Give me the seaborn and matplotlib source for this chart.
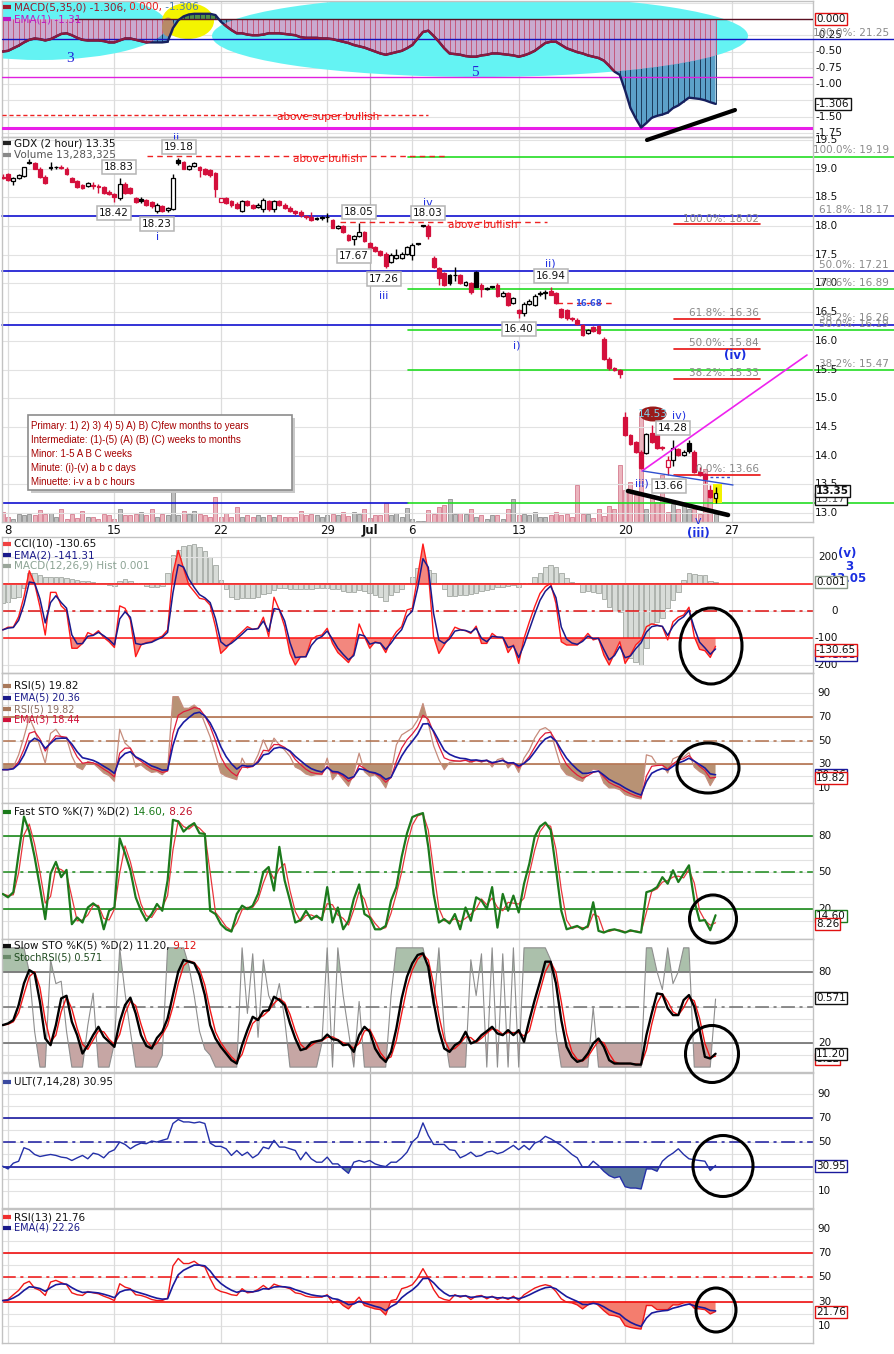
import numpy as np
import pandas as pd
import matplotlib
matplotlib.use("Agg")
import matplotlib.pyplot as plt
import seaborn as sns
from matplotlib.patches import Ellipse, Rectangle

# ---------------- data (2-hour bars, index -1 .. 133) ----------------
bar = np.arange(-1, 134)
date_pos = [0, 20, 40, 60, 68, 76, 96, 116, 136]
date_lbl = ['8', '15', '22', '29', 'Jul', '6', '13', '20', '27']

opens = [18.86, 18.90, 18.78, 18.84, 18.87, 19.10, 19.09, 19.00, 18.86, 19.03,
         19.03, 19.02, 19.00, 18.84, 18.79, 18.72, 18.70, 18.71, 18.70, 18.68,
         18.60, 18.55, 18.49, 18.74, 18.66, 18.48, 18.47, 18.45, 18.41, 18.26,
         18.34, 18.28, 18.30, 19.15, 19.12, 19.00, 19.04, 19.02, 18.99, 18.98,
         18.92, 18.42, 18.48, 18.43, 18.39, 18.26, 18.44, 18.37, 18.33, 18.29,
         18.44, 18.30, 18.43, 18.37, 18.32, 18.27, 18.25, 18.17, 18.15, 18.13,
         18.16, 18.15, 18.10, 17.96, 18.00, 17.84, 17.77, 17.83, 17.90, 17.70,
         17.63, 17.57, 17.52, 17.38, 17.44, 17.45, 17.52, 17.49, 17.70, 18.01,
         18.00, 17.45, 17.26, 17.18, 17.15, 17.15, 17.15, 16.98, 17.00, 17.20,
         16.98, 16.91, 16.94, 16.98, 16.78, 16.83, 16.66, 16.54, 16.49, 16.64,
         16.62, 16.82, 16.84, 16.86, 16.83, 16.55, 16.53, 16.40, 16.37, 16.27,
         16.13, 16.24, 16.25, 16.04, 15.69, 15.52, 15.49, 14.68, 14.36, 14.24,
         14.07, 14.05, 14.39, 14.36, 14.14, 13.81, 13.92, 14.11, 14.01, 14.22,
         14.07, 13.72, 13.68, 13.40, 13.26]
closes = [18.84, 18.80, 18.83, 18.88, 19.02, 19.12, 19.00, 18.85, 18.75, 19.01,
          19.02, 19.01, 18.90, 18.77, 18.68, 18.67, 18.75, 18.70, 18.68, 18.57,
          18.56, 18.51, 18.74, 18.58, 18.57, 18.42, 18.43, 18.37, 18.34, 18.37,
          18.26, 18.31, 18.83, 19.10, 19.00, 19.04, 19.10, 18.98, 18.90, 18.89,
          18.64, 18.48, 18.40, 18.36, 18.32, 18.43, 18.37, 18.31, 18.37, 18.46,
          18.29, 18.43, 18.37, 18.31, 18.26, 18.22, 18.19, 18.15, 18.10, 18.13,
          18.14, 18.16, 17.97, 18.00, 17.90, 17.76, 17.83, 17.90, 17.74, 17.61,
          17.57, 17.50, 17.30, 17.49, 17.50, 17.52, 17.64, 17.67, 17.69, 18.00,
          17.82, 17.29, 17.10, 16.98, 17.00, 17.14, 17.01, 17.02, 16.85, 16.94,
          16.90, 16.91, 16.94, 16.78, 16.84, 16.62, 16.74, 16.49, 16.64, 16.70,
          16.78, 16.83, 16.84, 16.80, 16.66, 16.42, 16.39, 16.38, 16.30, 16.10,
          16.19, 16.17, 16.14, 15.69, 15.52, 15.50, 15.42, 14.36, 14.21, 14.07,
          13.78, 14.38, 14.24, 14.13, 14.13, 13.92, 14.13, 14.01, 14.07, 14.08,
          13.72, 13.66, 13.60, 13.28, 13.35]
highs = [18.90, 18.93, 18.85, 18.90, 19.03, 19.16, 19.11, 19.02, 18.88, 19.12,
         19.05, 19.06, 19.02, 18.86, 18.81, 18.74, 18.76, 18.77, 18.74, 18.70,
         18.62, 18.58, 18.83, 18.76, 18.68, 18.50, 18.50, 18.47, 18.43, 18.40,
         18.36, 18.33, 18.90, 19.18, 19.14, 19.06, 19.12, 19.04, 19.01, 19.00,
         18.94, 18.49, 18.50, 18.45, 18.41, 18.45, 18.46, 18.39, 18.40, 18.49,
         18.46, 18.45, 18.45, 18.40, 18.34, 18.28, 18.28, 18.20, 18.25, 18.16,
         18.18, 18.22, 18.12, 18.02, 18.02, 17.86, 17.85, 18.05, 17.92, 17.72,
         17.65, 17.59, 17.54, 17.53, 17.60, 17.54, 17.66, 17.70, 17.71, 18.02,
         18.03, 17.47, 17.28, 17.20, 17.17, 17.29, 17.17, 17.04, 17.02, 17.22,
         17.00, 16.93, 16.96, 17.00, 16.86, 16.85, 16.76, 16.56, 16.68, 16.72,
         16.82, 16.86, 16.88, 16.94, 16.85, 16.57, 16.55, 16.42, 16.39, 16.29,
         16.21, 16.26, 16.27, 16.06, 15.71, 15.54, 15.51, 14.76, 14.38, 14.26,
         14.09, 14.40, 14.53, 14.38, 14.16, 14.00, 14.28, 14.13, 14.09, 14.28,
         14.09, 13.80, 13.70, 13.48, 13.45]
lows = [18.82, 18.78, 18.71, 18.82, 18.86, 19.08, 18.99, 18.84, 18.74, 18.98,
        18.99, 18.99, 18.88, 18.76, 18.67, 18.65, 18.68, 18.64, 18.57, 18.55,
        18.54, 18.42, 18.46, 18.56, 18.55, 18.40, 18.40, 18.35, 18.32, 18.23,
        18.25, 18.25, 18.28, 19.07, 18.99, 18.98, 19.02, 18.86, 18.88, 18.86,
        18.51, 18.41, 18.38, 18.33, 18.30, 18.24, 18.35, 18.29, 18.31, 18.25,
        18.26, 18.24, 18.34, 18.30, 18.24, 18.20, 18.16, 18.12, 18.08, 18.10,
        18.10, 18.07, 17.96, 17.94, 17.88, 17.74, 17.67, 17.81, 17.72, 17.59,
        17.55, 17.48, 17.26, 17.36, 17.42, 17.42, 17.50, 17.40, 17.67, 17.99,
        17.78, 17.27, 16.97, 16.95, 16.97, 17.04, 16.99, 16.96, 16.82, 16.93,
        16.77, 16.89, 16.92, 16.76, 16.76, 16.60, 16.64, 16.40, 16.44, 16.62,
        16.60, 16.78, 16.72, 16.80, 16.64, 16.40, 16.36, 16.34, 16.28, 16.08,
        16.11, 16.15, 16.12, 15.67, 15.50, 15.48, 15.36, 14.34, 14.19, 14.05,
        13.76, 14.03, 14.22, 14.11, 14.10, 13.66, 13.82, 13.99, 13.99, 14.05,
        13.70, 13.64, 13.52, 13.26, 13.18]
volume_m = [16.0, 8.0, 4.3, 13.3, 10.7, 13.3, 10.7, 19.7, 13.3, 14.9,
            8.0, 21.3, 5.3, 13.3, 6.4, 17.1, 8.0, 8.0, 4.3, 13.3,
            10.7, 5.3, 20.3, 11.7, 11.7, 13.3, 16.0, 10.7, 20.3, 8.0,
            13.3, 10.7, 152.0, 10.7, 17.1, 13.3, 17.1, 13.3, 10.7, 8.0,
            40.0, 8.0, 14.9, 8.0, 24.0, 8.0, 10.7, 8.0, 11.7, 8.0,
            11.7, 8.0, 11.7, 8.0, 8.0, 8.0, 17.1, 10.7, 13.3, 10.7,
            8.0, 11.7, 13.3, 10.7, 16.0, 9.6, 16.0, 13.3, 20.3, 6.4,
            10.7, 10.7, 30.9, 10.7, 14.9, 8.0, 22.4, 5.3, 1.6, 1.6,
            18.7, 13.3, 24.0, 26.7, 37.3, 13.3, 14.9, 13.3, 21.3, 8.0,
            11.7, 5.3, 10.7, 11.7, 5.3, 20.3, 37.3, 10.7, 13.3, 10.7,
            16.0, 8.0, 8.0, 10.7, 16.0, 10.7, 13.3, 8.0, 58.7, 13.3,
            13.3, 6.4, 20.3, 9.6, 25.6, 21.3, 90.7, 50.6, 64.0, 42.7,
            170.6, 21.3, 42.7, 32.0, 74.6, 16.0, 29.3, 21.3, 26.7, 21.3,
            21.3, 13.3, 85.3, 40.0, 13.3]
macd_5_35 = [-0.50, -0.49, -0.45, -0.41, -0.36, -0.32, -0.30, -0.31, -0.33, -0.31,
             -0.27, -0.23, -0.22, -0.25, -0.29, -0.32, -0.33, -0.33, -0.33, -0.34,
             -0.36, -0.36, -0.33, -0.30, -0.30, -0.32, -0.34, -0.36, -0.36, -0.36,
             -0.36, -0.35, -0.14, -0.02, 0.04, 0.07, 0.08, 0.08, 0.08, 0.08,
             0.06, -0.04, -0.11, -0.17, -0.22, -0.22, -0.24, -0.25, -0.25, -0.24,
             -0.22, -0.22, -0.22, -0.23, -0.24, -0.25, -0.28, -0.29, -0.29, -0.29,
             -0.30, -0.30, -0.31, -0.33, -0.35, -0.37, -0.40, -0.42, -0.44, -0.47,
             -0.50, -0.53, -0.55, -0.53, -0.51, -0.49, -0.45, -0.40, -0.30, -0.20,
             -0.18, -0.26, -0.35, -0.45, -0.53, -0.54, -0.55, -0.57, -0.58, -0.58,
             -0.56, -0.55, -0.53, -0.53, -0.54, -0.55, -0.56, -0.58, -0.56, -0.53,
             -0.49, -0.43, -0.37, -0.35, -0.35, -0.40, -0.45, -0.48, -0.51, -0.53,
             -0.56, -0.58, -0.60, -0.64, -0.72, -0.81, -0.86, -1.10, -1.37, -1.53,
             -1.67, -1.60, -1.52, -1.49, -1.47, -1.44, -1.37, -1.33, -1.27, -1.21,
             -1.22, -1.23, -1.25, -1.28, -1.306]
macd_hist = [-0.062, -0.057, -0.047, -0.042, -0.017, 0.028, 0.028, 0.023, 0.018, 0.018,
             0.016, 0.016, 0.013, 0.010, 0.008, 0.006, 0.006, 0.003, 0.000, -0.004,
             -0.007, -0.010, 0.006, 0.010, 0.006, 0.000, -0.004, -0.010, -0.012, -0.012,
             -0.010, 0.030, 0.083, 0.098, 0.110, 0.113, 0.116, 0.108, 0.096, 0.078,
             0.053, 0.008, -0.020, -0.042, -0.050, -0.047, -0.047, -0.047, -0.042, -0.034,
             -0.032, -0.022, -0.017, -0.017, -0.020, -0.020, -0.020, -0.020, -0.020, -0.017,
             -0.017, -0.017, -0.020, -0.020, -0.024, -0.027, -0.027, -0.022, -0.024, -0.030,
             -0.037, -0.042, -0.054, -0.037, -0.027, -0.020, -0.004, 0.018, 0.043, 0.073,
             0.038, 0.030, 0.000, -0.020, -0.040, -0.040, -0.037, -0.037, -0.034, -0.030,
             -0.024, -0.022, -0.018, -0.014, -0.012, -0.010, -0.007, -0.014, -0.002, 0.000,
             0.016, 0.028, 0.046, 0.053, 0.046, 0.030, 0.013, 0.001, -0.004, -0.027,
             -0.024, -0.027, -0.032, -0.050, -0.072, -0.084, -0.087, -0.207, -0.227, -0.237,
             -0.247, -0.197, -0.122, -0.117, -0.107, -0.077, -0.052, -0.027, 0.008, 0.030,
             0.026, 0.023, 0.023, 0.006, 0.001]
cci10 = [-70, -60, -60, -21, 53, 149, 102, 16, -89, 69,
         69, 19, 0, -138, -138, -120, -80, -89, -73, -98,
         -114, -135, 19, 10, -33, -169, -126, -117, -114, -101,
         -93, -70, 140, 224, 158, 96, 72, 47, 43, 22,
         -58, -157, -138, -114, -95, -77, -58, -68, -64, -23,
         -95, 51, 4, -58, -157, -200, -169, -169, -107, -93,
         -89, -64, -120, -154, -172, -191, -157, -48, -95, -138,
         -114, -120, -154, -107, -77, -58, 4, 10, 127, 248,
         146, -95, -157, -126, -95, -60, -68, -73, -83, -56,
         -120, -120, -83, -98, -98, -154, -126, -194, -101, -40,
         16, 65, 90, 102, 28, -114, -126, -126, -126, -107,
         -83, -107, -101, -163, -200, -157, -114, -194, -163, -126,
         -107, -58, -48, -52, -58, -107, -40, -23, -15, 14,
         -95, -142, -147, -172, -130.65]
rsi5 = [25.6, 25.6, 27.8, 38.0, 53.0, 69.4, 59.0, 45.0, 31.0, 56.0,
        59.4, 52.8, 52.0, 37.0, 27.8, 25.6, 32.5, 31.0, 27.0, 22.8,
        20.6, 15.8, 59.4, 47.8, 43.6, 27.8, 29.7, 26.0, 23.3, 24.0,
        21.4, 25.6, 86.7, 86.7, 77.0, 77.0, 79.7, 75.6, 64.4, 53.0,
        38.0, 22.8, 20.0, 18.6, 17.2, 35.3, 27.0, 29.0, 38.0, 50.5,
        40.8, 52.0, 46.4, 42.0, 36.7, 27.8, 25.6, 22.0, 20.6, 21.4,
        21.4, 35.3, 17.2, 22.8, 17.2, 11.7, 22.8, 39.4, 24.0, 20.0,
        21.4, 17.2, 10.3, 22.8, 46.4, 54.7, 57.5, 60.3, 67.2, 81.0,
        64.4, 45.6, 34.0, 25.6, 31.7, 32.5, 32.5, 34.0, 31.0, 34.0,
        31.7, 34.0, 27.8, 34.0, 35.3, 27.0, 31.7, 23.3, 35.3, 42.0,
        52.0, 59.0, 60.8, 57.5, 42.0, 27.0, 21.4, 20.0, 17.2, 15.8,
        22.8, 26.0, 25.6, 14.4, 10.3, 10.3, 8.9, 4.7, 3.3, 1.9,
        1.1, 38.0, 36.7, 29.7, 29.7, 22.8, 34.7, 36.7, 36.0, 40.0,
        27.8, 24.0, 21.4, 12.2, 19.82]
fast_k = [32.2, 29.4, 33.6, 65.6, 96.0, 83.6, 62.8, 37.8, 11.4, 48.9,
          58.6, 46.0, 52.0, 7.2, 12.8, 8.6, 21.0, 24.4, 21.0, 3.0,
          18.3, 21.0, 78.0, 65.6, 51.7, 29.4, 18.3, 10.0, 15.6, 23.9,
          18.3, 43.3, 93.3, 92.0, 83.6, 87.8, 90.6, 82.2, 81.7, 18.3,
          15.6, 7.2, 3.0, 1.1, 15.6, 22.5, 19.7, 22.5, 32.2, 50.3,
          54.4, 35.0, 71.0, 43.3, 26.7, 8.6, 10.6, 18.3, 11.4, 14.2,
          10.6, 37.8, 8.6, 21.0, 3.0, 10.0, 28.0, 40.0, 15.6, 12.8,
          3.0, 3.0, 5.8, 26.7, 37.8, 62.8, 82.2, 95.6, 97.5, 98.9,
          71.0, 32.2, 8.6, 11.4, 7.8, 15.6, 3.0, 21.0, 10.0, 29.4,
          26.7, 19.7, 37.8, 4.4, 32.2, 18.3, 30.8, 16.9, 40.6, 57.2,
          79.4, 87.8, 91.1, 85.0, 53.0, 18.3, 3.0, 4.4, 5.8, 3.0,
          5.8, 25.3, 1.7, 0.3, 2.2, 3.0, 1.7, 0.3, 2.2, 1.1,
          0.3, 33.6, 35.0, 37.8, 46.0, 40.6, 51.7, 42.0, 48.9, 55.8,
          26.7, 10.0, 10.6, 2.2, 14.6]
slow_k = [35.2, 36.6, 39.4, 52.0, 70.2, 81.4, 78.6, 54.8, 24.0, 18.4,
          35.2, 57.6, 59.8, 38.0, 26.8, 11.4, 18.4, 26.8, 33.8, 25.4,
          21.2, 17.0, 38.0, 52.0, 58.2, 45.0, 26.8, 17.8, 15.6, 24.5,
          29.6, 40.8, 60.4, 80.0, 89.8, 88.4, 87.0, 77.2, 60.4, 35.2,
          24.0, 17.0, 11.4, 5.8, 3.0, 18.4, 31.0, 42.2, 39.4, 47.0,
          47.8, 59.0, 56.2, 52.0, 36.6, 24.0, 14.2, 15.6, 20.7, 21.7,
          22.6, 27.3, 23.4, 22.6, 18.4, 19.0, 12.8, 26.8, 33.8, 29.6,
          15.6, 8.6, 4.4, 12.8, 32.4, 57.6, 75.8, 87.0, 94.0, 95.4,
          84.2, 54.8, 31.0, 15.6, 12.8, 18.4, 21.2, 29.6, 19.8, 21.7,
          26.8, 30.1, 33.8, 28.2, 26.8, 31.0, 26.8, 31.0, 21.2, 39.4,
          56.2, 71.6, 88.4, 88.4, 70.2, 39.4, 17.0, 8.6, 4.4, 5.8,
          11.4, 19.8, 24.0, 17.0, 5.8, 3.0, 3.0, 3.0, 3.0, 2.1,
          2.1, 26.8, 45.0, 61.8, 61.0, 49.2, 43.6, 43.6, 56.2, 60.4,
          50.6, 31.0, 8.6, 7.2, 11.2]
stoch_rsi = [1.0, 1.0, 1.0, 1.0, 1.0, 0.8, 0.3, 0.0, 0.0, 0.9,
             0.7, 0.72, 0.3, 0.0, 0.0, 0.0, 0.35, 0.62, 0.0, 0.0,
             0.0, 0.2, 1.0, 0.62, 0.3, 0.0, 0.0, 0.0, 0.0, 0.0,
             0.1, 1.0, 1.0, 1.0, 1.0, 0.85, 0.6, 0.3, 0.15, 0.1,
             0.0, 0.0, 0.0, 0.0, 0.0, 1.0, 0.45, 0.95, 0.25, 0.9,
             0.6, 0.5, 0.7, 0.4, 0.0, 0.0, 0.0, 0.0, 0.0, 0.0,
             0.2, 1.0, 0.0, 1.0, 0.6, 0.3, 0.0, 0.55, 0.0, 0.0,
             0.0, 0.0, 0.0, 0.6, 1.0, 1.0, 1.0, 1.0, 1.0, 1.0,
             0.8, 0.5, 1.0, 0.3, 0.0, 0.0, 0.0, 0.0, 0.9, 0.6,
             0.95, 0.0, 1.0, 0.0, 0.95, 0.0, 1.0, 0.0, 1.0, 1.0,
             1.0, 1.0, 1.0, 0.9, 0.3, 0.0, 0.0, 0.0, 0.0, 0.0,
             0.0, 0.5, 0.0, 0.0, 0.0, 0.0, 0.0, 0.0, 0.0, 0.0,
             0.0, 1.0, 1.0, 0.8, 0.65, 1.0, 0.7, 0.8, 1.0, 1.0,
             0.0, 0.0, 0.0, 0.0, 0.571]
ult = [30.3, 28.0, 32.8, 34.4, 45.6, 43.9, 40.0, 38.3, 39.2, 40.0,
       39.2, 37.8, 37.2, 35.0, 37.2, 39.2, 36.4, 41.1, 40.0, 37.2,
       41.9, 43.9, 50.3, 48.3, 44.7, 47.5, 49.4, 48.9, 51.1, 50.3,
       51.7, 53.0, 65.6, 68.9, 66.9, 66.9, 66.1, 66.9, 65.6, 49.4,
       46.7, 46.7, 44.7, 39.2, 43.3, 39.2, 41.9, 37.2, 40.0, 46.1,
       44.7, 51.7, 46.1, 46.1, 44.7, 43.3, 35.6, 41.9, 36.4, 33.6,
       33.6, 37.8, 32.2, 32.2, 28.0, 24.4, 33.6, 35.0, 33.6, 35.0,
       32.2, 30.8, 30.0, 33.6, 33.6, 37.2, 41.9, 50.3, 54.4, 66.1,
       55.8, 48.3, 48.3, 48.3, 43.9, 43.3, 37.2, 39.2, 41.9, 38.3,
       39.2, 41.9, 42.8, 40.6, 41.9, 44.7, 47.5, 43.9, 47.5, 43.9,
       49.4, 51.1, 55.0, 53.0, 50.3, 47.5, 43.9, 40.0, 37.2, 29.4,
       29.4, 34.4, 30.8, 26.1, 22.5, 20.6, 21.7, 13.3, 12.2, 12.2,
       11.4, 28.0, 28.0, 26.1, 34.4, 38.3, 41.1, 44.7, 40.0, 36.4,
       35.6, 35.0, 34.4, 26.7, 30.95]
rsi13 = [30.8, 31.7, 35.6, 39.2, 44.7, 46.7, 41.1, 39.2, 35.0, 46.1,
         47.5, 45.6, 43.9, 37.2, 35.6, 35.0, 38.3, 37.2, 36.4, 34.4,
         32.8, 30.8, 44.7, 41.9, 40.6, 35.6, 35.0, 33.6, 31.7, 30.8,
         30.8, 32.8, 59.4, 65.6, 61.4, 61.4, 63.3, 60.0, 58.6, 48.9,
         40.6, 38.3, 37.2, 35.6, 35.0, 40.6, 37.2, 37.8, 40.0, 43.3,
         40.0, 44.4, 42.8, 41.9, 40.6, 37.2, 36.4, 34.4, 33.6, 33.6,
         33.6, 35.6, 28.9, 30.8, 26.7, 23.9, 28.9, 33.6, 26.7, 25.3,
         23.9, 23.3, 18.9, 30.8, 31.7, 40.6, 41.9, 43.9, 49.4, 57.2,
         49.4, 40.0, 33.6, 31.7, 30.8, 35.6, 33.6, 35.0, 31.7, 34.4,
         35.0, 32.2, 34.4, 31.7, 33.6, 31.7, 34.4, 30.8, 35.6, 38.3,
         41.1, 42.8, 43.9, 42.8, 38.3, 32.2, 29.4, 28.9, 27.2, 23.9,
         27.2, 30.0, 26.7, 22.5, 18.9, 18.3, 16.9, 10.0, 8.6, 7.8,
         7.2, 26.7, 26.7, 23.3, 23.3, 23.3, 27.2, 27.2, 28.9, 29.4,
         24.4, 23.9, 23.3, 19.7, 21.76]

df = pd.DataFrame({'bar': bar, 'open': opens, 'close': closes, 'high': highs, 'low': lows,
                   'vol': volume_m, 'macd': macd_5_35, 'hist': macd_hist, 'cci': cci10,
                   'rsi5': rsi5, 'fk': fast_k, 'sk': slow_k, 'srsi': stoch_rsi,
                   'ult': ult, 'rsi13': rsi13})
df['cci_ema'] = df['cci'].ewm(span=2, adjust=False).mean()
df['rsi5_ema5'] = df['rsi5'].ewm(span=5, adjust=False).mean()
df['rsi5_ema3'] = df['rsi5'].ewm(span=3, adjust=False).mean()
df['fd'] = df['fk'].rolling(2, min_periods=1).mean()
df['sd'] = df['sk'].rolling(2, min_periods=1).mean()
df['srsi100'] = df['srsi'] * 100
df['rsi13_ema'] = df['rsi13'].ewm(span=4, adjust=False).mean()

# ---------------- figure / layout ----------------
W, H = 895, 1354
sns.set_theme(style='white')
plt.rcParams['font.family'] = ['DejaVu Sans']

fig = plt.figure(figsize=(W / 100, H / 100), dpi=100)
XL = ((2 - 8) / 5.32, (813 - 8) / 5.32)


def X(px):
    return (px - 8) / 5.32


def M(py):      # macd panel pixel -> value
    return -(py - 19) / 65


def P(py):      # price panel pixel -> price
    return 13 + (513 - py) / 57.4


def panel(top, bottom):
    return fig.add_axes([2 / W, 1 - bottom / H, 811 / W, (bottom - top) / H])


def style(ax, lo, hi, grid_vals):
    ax.set_xlim(XL)
    ax.set_ylim(lo, hi)
    ax.set_xticks(date_pos)
    ax.set_yticks([])
    ax.tick_params(length=0, labelleft=False, labelbottom=False, labelright=False)
    ax.grid(False)
    for v in grid_vals:
        ax.axhline(v, color='#e2e2e2', lw=0.8, zorder=0)
    for t in date_pos:
        ax.axvline(t, color='#b4b4b4' if t == 68 else '#dcdcdc', lw=0.9, zorder=0)
    for s in ax.spines.values():
        s.set_color('#c2c2c2')
        s.set_linewidth(1)
    ax.set_xlabel('')
    ax.set_ylabel('')


def rlabels(ax, vals, xr, fmt=None, texts=None, color='#111111', fs=7.5):
    texts = texts or [fmt.format(v) for v in vals]
    for v, s in zip(vals, texts):
        ax.text(1 + (xr - 813) / 811, v, s, transform=ax.get_yaxis_transform(), ha='right',
                va='center', fontsize=fs, color=color, clip_on=False)


def hl(ax, y, color, lw=1.1, dash=False):
    ax.axhline(y, color=color, lw=lw, ls=(0, (9, 3, 2, 3)) if dash else '-', zorder=2)


def line(ax, col, color, lw=1.0, z=4):
    sns.lineplot(data=df, x='bar', y=col, ax=ax, color=color, linewidth=lw, zorder=z)
    ax.set_xlabel('')
    ax.set_ylabel('')
    return ax.lines[-1]


# ---------------- MACD(5,35,0) ----------------
ax0 = panel(1, 137)
style(ax0, M(137), M(1), [0.25, 0, -0.25, -0.5, -0.75, -1.0, -1.25, -1.5, -1.75])
cyan = '#64f3f3'
ells = []
for cx, cy, w, h in [(40, 25, 254, 70), (480, 36, 536, 82)]:
    e = Ellipse((X(cx), M(cy)), w / 5.32, h / 65, fc=cyan, ec='none', zorder=1)
    ax0.add_patch(e)
    ells.append(e)
ax0.add_patch(Ellipse((X(188), M(21)), 52 / 5.32, 36 / 65, fc='#f4f400', ec='none', zorder=1))
m = df['macd'].values
neg = m < 0
ax0.fill_between(bar, m, 0, where=neg, interpolate=True, color='#5ca1c9', lw=0, zorder=2)
ax0.vlines(bar[neg], m[neg], 0, color='#1b3a5a', lw=0.7, zorder=2)
for e in ells:
    f = ax0.fill_between(bar, m, 0, where=neg, interpolate=True, color='#c9aacf', lw=0, zorder=3)
    f.set_clip_path(e)
    v = ax0.vlines(bar[neg], m[neg], 0, color='#c4587c', lw=0.7, zorder=3)
    v.set_clip_path(e)
ax0.fill_between(bar, m, 0, where=~neg, interpolate=True, color='#4f8f47', lw=0, zorder=3)
ax0.vlines(bar[~neg], 0, m[~neg], color='#1b3a5a', lw=0.7, zorder=3)
ax0.add_patch(Ellipse((X(168), M(27)), 12 / 5.32, 19 / 65, fc='#b88a66', ec='none', zorder=3.5))
ax0.axhline(0, xmin=0.09, color='#5a1022', lw=1, zorder=3.6)
ax0.axhline(M(77), color='#e020e0', lw=1, zorder=3.6)
ax0.axhline(M(128), color='#e81ee8', lw=2.2, zorder=3.6)
ax0.plot([XL[0], X(895)], [M(39)] * 2, color='#1414c0', lw=1, clip_on=False, zorder=3.6)
ax0.plot([XL[0], X(428)], [M(115)] * 2, color='#ee2222', lw=1, ls=(0, (3, 2)), zorder=3.6)
line(ax0, 'macd', '#16205e', 1.7, 5)
for e in ells:
    ln = line(ax0, 'macd', '#8c1a3e', 1.7, 6)
    ln.set_clip_path(e)
ax0.set_xlim(XL)
ax0.set_ylim(M(137), M(1))
rlabels(ax0, [-0.25, -0.5, -0.75, -1.0, -1.5, -1.75], 842, '{:.2f}')

# ---------------- price + volume ----------------
axp = panel(137, 522)
style(axp, P(522), P(137), np.arange(13, 19.6, 0.5))
axv = axp.twinx()
axp.set_zorder(2)
axp.patch.set_visible(False)
o, c, hi, lo = (df[k].values for k in ('open', 'close', 'high', 'low'))
prev = np.r_[c[0], c[:-1]]
up = c > prev
axv.bar(bar, df['vol'], width=0.75, color=np.where(up, '#bfbfbf', '#ebb5be'),
        edgecolor=np.where(up, '#8e8e8e', '#d67b8e'), lw=0.6)
axv.set_ylim(0, 616)
axv.set_xlim(XL)
axv.axis('off')

axp.add_patch(Rectangle((X(713), P(503)), X(722) - X(713), P(484) - P(503), fc='#f2f200', ec='none', zorder=3))
edge = np.where(up, '#000000', '#d4103c')
face = np.where(c > o, '#ffffff', edge)
axp.vlines(bar, lo, hi, colors=edge, lw=1, zorder=4)
axp.bar(bar, np.maximum(np.abs(c - o), 0.012), bottom=np.minimum(o, c), width=0.72,
        color=face, edgecolor=edge, lw=0.9, zorder=5)

# horizontal reference lines
far = X(895)
for p in (P(216), P(271), P(325)):
    axp.plot([XL[0], far], [p, p], color='#1010d0', lw=1.2, clip_on=False, zorder=2)
axp.plot([XL[0], X(408)], [P(503)] * 2, color='#1010d0', lw=1.2, zorder=2)
for py in (157, 289, 330, 370, 503):
    axp.plot([X(408), far], [P(py)] * 2, color='#22dd22', lw=1.2, clip_on=False, zorder=2)
for py, x0, x1 in ((156, 147, 445), (222, 340, 547), (303, 557, 615)):
    axp.plot([X(x0), X(x1)], [P(py)] * 2, color='#ee2222', lw=1, ls=(0, (4, 3)), zorder=2)
for py in (224, 319, 349, 379, 475):
    axp.plot([X(674), X(760)], [P(py)] * 2, color='#e81010', lw=1.2, zorder=2)
axp.set_xticks(date_pos)
axp.set_xticklabels(date_lbl)
axp.tick_params(axis='x', labelbottom=True, pad=1.5, labelsize=8.5, colors='#111111')
axp.get_xticklabels()[4].set_fontweight('bold')
rlabels(axp, list(np.arange(13, 19.6, 0.5)), 838, '{:.1f}')

# ---------------- CCI(10) + MACD hist ----------------
axc = panel(537, 673)
style(axc, -229.6, 274, [200, 100, 0, -100, -200])
axh = axc.twinx()
axc.set_zorder(2)
axc.patch.set_visible(False)
axh.bar(bar, df['hist'], width=0.85, color='#d8dcd8', edgecolor='#a3a8a3', lw=0.6)
axh.set_ylim(-0.271, 0.137)
axh.set_xlim(XL)
axh.axis('off')
cc = df['cci'].values
axc.fill_between(bar, cc, 100, where=cc > 100, interpolate=True, color='#f3877e', lw=0, zorder=2)
axc.fill_between(bar, cc, -100, where=cc < -100, interpolate=True, color='#f3877e', lw=0, zorder=2)
hl(axc, 100, '#ff1010')
hl(axc, -100, '#ff1010')
hl(axc, 0, '#e01010', dash=True)
line(axc, 'cci', '#ff1a1a', 1.0, 4)
line(axc, 'cci_ema', '#1a1a8c', 1.1, 5)
axc.set_xlim(XL)
axc.set_ylim(-229.6, 274)
rlabels(axc, [200, 0, -100, -200], 838, '{:d}')

# ---------------- RSI(5) ----------------
axr = panel(673, 803)
style(axr, -2.3, 106.5, range(10, 100, 10))
rv = df['rsi5'].values
axr.fill_between(bar, rv, 70, where=rv > 70, interpolate=True, color='#b89274', lw=0, zorder=2)
axr.fill_between(bar, rv, 30, where=rv < 30, interpolate=True, color='#b89274', lw=0, zorder=2)
hl(axr, 70, '#b3714d', 1.2)
hl(axr, 30, '#b3714d', 1.2)
hl(axr, 50, '#b3714d', dash=True)
line(axr, 'rsi5', '#c68c7c', 0.9, 4)
line(axr, 'rsi5_ema3', '#e01b3a', 0.9, 5)
line(axr, 'rsi5_ema5', '#1a1aa0', 1.2, 6)
axr.set_xlim(XL)
axr.set_ylim(-2.3, 106.5)
rlabels(axr, [90, 70, 50, 30, 10], 831, '{:d}')

# ---------------- Fast STO ----------------
axf = panel(803, 939)
style(axf, -5, 107.2, range(10, 100, 10))
hl(axf, 80, '#1a8a1a', 1.2)
hl(axf, 20, '#1a8a1a', 1.2)
hl(axf, 50, '#1a8a1a', dash=True)
line(axf, 'fd', '#e8363c', 0.9, 4)
line(axf, 'fk', '#1c7a1c', 1.6, 5)
axf.set_xlim(XL)
axf.set_ylim(-5, 107.2)
rlabels(axf, [80, 50, 20], 831, '{:d}')

# ---------------- Slow STO + StochRSI ----------------
axs = panel(939, 1072)
style(axs, -4.1, 107.4, range(10, 100, 10))
sr = df['srsi100'].values
axs.fill_between(bar, sr, 80, where=sr > 80, interpolate=True, color='#abc0ab', lw=0, zorder=2)
axs.fill_between(bar, sr, 20, where=sr < 20, interpolate=True, color='#c6a6a4', lw=0, zorder=2)
hl(axs, 80, '#6e6e6e', 1.2)
hl(axs, 20, '#6e6e6e', 1.2)
hl(axs, 50, '#6e6e6e', dash=True)
line(axs, 'srsi100', '#8e8e8e', 0.8, 3)
line(axs, 'sd', '#f01818', 1.0, 4)
line(axs, 'sk', '#000000', 1.7, 5)
axs.set_xlim(XL)
axs.set_ylim(-4.1, 107.4)
rlabels(axs, [80, 20], 831, '{:d}')

# ---------------- ULT ----------------
axu = panel(1073, 1208)
style(axu, -4.3, 107.4, range(10, 100, 10))
uv = df['ult'].values
axu.fill_between(bar, uv, 30, where=uv < 30, interpolate=True, color='#5e7d9c', lw=0, zorder=2)
hl(axu, 70, '#1a1aa0', 1.2)
hl(axu, 30, '#1a1aa0', 1.2)
hl(axu, 50, '#1a1aa0', dash=True)
line(axu, 'ult', '#2430a8', 1.0, 4)
axu.set_xlim(XL)
axu.set_ylim(-4.3, 107.4)
rlabels(axu, [90, 70, 50, 10], 831, '{:d}')

# ---------------- RSI(13) ----------------
axq = panel(1209, 1343)
style(axq, -4.3, 106.5, range(10, 100, 10))
qv = df['rsi13'].values
axq.fill_between(bar, qv, 30, where=qv < 30, interpolate=True, color='#f47d6e', lw=0, zorder=2)
hl(axq, 70, '#f01010', 1.2)
hl(axq, 30, '#f01010', 1.2)
hl(axq, 50, '#f01010', dash=True)
line(axq, 'rsi13', '#f01818', 1.0, 4)
line(axq, 'rsi13_ema', '#1a1a9c', 1.2, 5)
axq.set_xlim(XL)
axq.set_ylim(-4.3, 106.5)
rlabels(axq, [90, 70, 50, 30, 10], 831, '{:d}')

# ---------------- overlay: annotations in pixel space ----------------
ov = fig.add_axes([0, 0, 1, 1], zorder=20)
ov.set_xlim(0, W)
ov.set_ylim(H, 0)
ov.axis('off')


def legend(x, y, parts, icon=None, fs=7.5):
    if icon:
        ov.plot([x, x + 8], [y, y], color=icon, lw=3, solid_capstyle='butt')
    t = ov.text(x + 11, y, parts[0][0], color=parts[0][1], fontsize=fs, va='center', ha='left')
    for s, col in parts[1:]:
        t = ov.annotate(s, xy=(1, 0.5), xycoords=t, va='center', ha='left', color=col, fontsize=fs)


def vbox(y, s, ec, color='#111111', bold=False, x=816):
    ov.text(x, y, s, ha='left', va='center', fontsize=7.5, color=color,
            fontweight='bold' if bold else 'normal',
            bbox=dict(boxstyle='square,pad=0.12', fc='white', ec=ec, lw=1))


legend(3, 7, [('MACD(5,35,0) -1.306,', '#9c1a2c'), (' 0.000,', '#e41b1b'), (' -1.306', '#4a7cb0')], '#9c1a2c')
legend(3, 19, [('EMA(1) -1.31', '#c01ac0')], '#c01ac0')
legend(3, 143, [('GDX (2 hour) 13.35', '#111111')], '#222222')
legend(3, 155, [('Volume 13,283,325', '#555555')], '#888888')
legend(3, 544, [('CCI(10) -130.65', '#111111')], '#f04040')
legend(3, 555, [('EMA(2) -141.31', '#1a1a8a')], '#1a1a8a')
legend(3, 566, [('MACD(12,26,9) Hist 0.001', '#8ca394')], '#9aa59a')
legend(3, 686, [('RSI(5) 19.82', '#111111')], '#a8785a')
legend(3, 698, [('EMA(5) 20.36', '#1a1a8a')], '#1a1a8a', 7)
legend(3, 709, [('RSI(5) 19.82', '#8c6e60')], '#a8785a', 7)
legend(3, 720, [('EMA(3) 18.44', '#d0103a')], '#d0103a', 7)
legend(3, 812, [('Fast STO %K(7) %D(2) ', '#111111'), ('14.60,', '#1a7a1a'), (' 8.26', '#c0102a')], '#1a7a1a')
legend(3, 946, [('Slow STO %K(5) %D(2) 11.20,', '#111111'), (' 9.12', '#e01010')], '#111111')
legend(3, 957, [('StochRSI(5) 0.571', '#1e4a1e')], '#6a8a6a', 7)
legend(3, 1082, [('ULT(7,14,28) 30.95', '#111111')], '#3a4aa0')
legend(3, 1217, [('RSI(13) 21.76', '#111111')], '#f03030')
legend(3, 1228, [('EMA(4) 22.26', '#1a1a8a')], '#1a1a8a', 7)

# wave counts / notes
ov.text(70, 58, '3', color='#2424d8', fontsize=11, ha='center', va='center', family='Liberation Serif')
ov.text(475, 72, '5', color='#2424d8', fontsize=11, ha='center', va='center', family='Liberation Serif')
ov.text(328, 117, 'above super bullish', color='#ee1111', fontsize=7.5, ha='center', va='center')
ov.text(328, 159, 'above bullish', color='#ee1111', fontsize=7.5, ha='center', va='center')
ov.text(483, 225, 'above bullish', color='#ee1111', fontsize=7.5, ha='center', va='center')
for x, y, s in ((176, 138, 'ii'), (158, 237, 'i'), (384, 296, 'iii'), (428, 203, 'iv'),
                (550, 264, 'ii)'), (517, 346, 'i)'), (679, 416, 'iv)'), (642, 484, 'iii)'), (698, 521, 'v')):
    ov.text(x, y, s, color='#2030e0', fontsize=8, ha='center', va='center')
for x, y, s in ((735, 355, '(iv)'), (698, 533, '(iii)'), (847, 553, '(v)'), (849, 566, '3'), (848, 578, '13.05')):
    ov.text(x, y, s, color='#1a2ee0', fontsize=8.5, ha='center', va='center', fontweight='bold')
ov.text(588, 303, '16.68', color='#3050e0', fontsize=6, ha='center', va='center', fontweight='bold')
for x, y, s in ((179, 147, '19.18'), (119, 167, '18.83'), (114, 213, '18.42'), (157, 224, '18.23'),
                (359, 212, '18.05'), (428, 213, '18.03'), (354, 256, '17.67'), (384, 279, '17.26'),
                (551, 276, '16.94'), (519, 329, '16.40'), (673, 428, '14.28'), (669, 486, '13.66')):
    ov.text(x, y, s, fontsize=7.5, ha='center', va='center', color='#111111',
            bbox=dict(boxstyle='square,pad=0.18', fc='white', ec='#b4b4b4', lw=1.1))
ov.add_patch(Ellipse((653, 414), 27, 15, fc='#9a1a1a', ec='none'))
ov.text(653, 414, '14.53', color='#7fd4ec', fontsize=7.5, ha='center', va='center')

# fib labels
for y, s in ((219, '100.0%: 18.02'), (313, '61.8%: 16.36'), (343, '50.0%: 15.84'),
             (373, '38.2%: 15.33'), (469, '0.0%: 13.66')):
    ov.text(759, y, s, color='#888888', fontsize=7.5, ha='right', va='center')
for y, s in ((33, '100.0%: 21.25'), (150, '100.0%: 19.19'), (210, '61.8%: 18.17'), (265, '50.0%: 17.21'),
             (283, '78.6%: 16.89'), (318, '38.2%: 16.26'), (324, '50.0%: 16.19'), (364, '38.2%: 15.47')):
    ov.text(889, y, s, color='#8a8a8a', fontsize=7.5, ha='right', va='center')

# trend lines
ov.plot([647, 735], [140, 110], color='black', lw=3, solid_capstyle='round')
ov.plot([628, 728], [491, 515], color='black', lw=3.3, solid_capstyle='round')
ov.plot([642, 807], [471, 355], color='#ee22ee', lw=1.2)
ov.plot([643, 733], [471, 485], color='#3050d0', lw=1)
ov.plot([710, 732], [477, 477], color='#3050d0', lw=1, ls=(0, (2, 2)))

# note box
ov.add_patch(Rectangle((31, 418), 264, 75, fc='#c8c8c8', ec='none'))
ov.add_patch(Rectangle((28, 415), 264, 75, fc='white', ec='#8c8c8c', lw=1.2))
for k, s in enumerate(['Primary: 1) 2) 3) 4) 5) A) B) C)few months to years',
                       'Intermediate: (1)-(5) (A) (B) (C) weeks to months',
                       'Minor: 1-5 A B C weeks',
                       'Minute: (i)-(v) a b c days',
                       'Minuette: i-v a b c hours']):
    ov.text(31, 426 + k * 14, s, color='#a50000', fontsize=7, ha='left', va='center', family='Liberation Sans')

# circles
for cx, cy, w, h in ((711, 646, 62, 76), (708, 768, 62, 50), (713, 919, 47, 48),
                     (712, 1054, 53, 57), (723, 1166, 60, 61), (716, 1310, 40, 44)):
    ov.add_patch(Ellipse((cx, cy), w, h, fc='none', ec='black', lw=2.2))

# value boxes on the right
vbox(19, '0.000', '#e01010')
vbox(104, '-1.306', '#111111')
vbox(499, '13.17', '#111111', color='#444444')
vbox(491, '13.35', '#111111', bold=True)
vbox(582, '0.001', '#8a9a8a')
vbox(655, '-141.31', '#1a1a9c', color='#1a1a9c')
vbox(650, '-130.65', '#e01010')
vbox(775, '20.36', '#1a1a9c')
vbox(778, '19.82', '#e01010')
vbox(916, '14.60', '#1a7a1a')
vbox(924, '8.26', '#e01010')
vbox(998, '0.571', '#111111')
vbox(1059, '9.12', '#e01010')
vbox(1054, '11.20', '#111111')
vbox(1166, '30.95', '#1a1a9c')
vbox(1312, '21.76', '#e01010')

fig.savefig('out.png', dpi=100)
